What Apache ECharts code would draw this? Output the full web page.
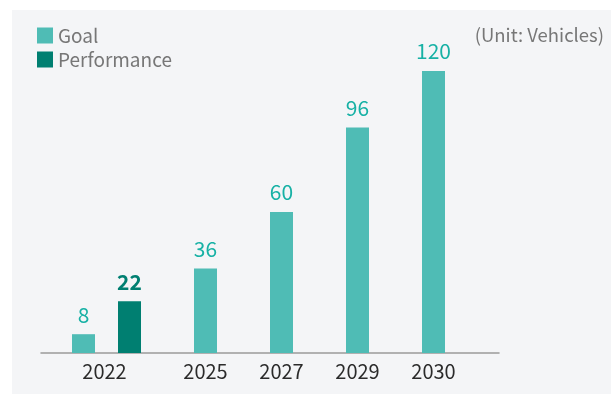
<!DOCTYPE html>
<html>
<head>
<meta charset="utf-8">
<script src="https://cdn.jsdelivr.net/npm/echarts@6/dist/echarts.min.js"></script>
<style>
  html, body { margin: 0; padding: 0; background: #ffffff; }
  #chart { width: 611px; height: 394px; }
</style>
</head>
<body>
<div id="chart"></div>
<script>
// Yearly targets and the 2022 result (unit: vehicles)
const years = ['2022', '2025', '2027', '2029', '2030'];
const goal = [8, 36, 60, 96, 120];
const performance = [22];
const unitNote = '(Unit: Vehicles)';

const FONT = '"Noto Sans CJK KR", "Noto Sans", sans-serif';
const GOAL_COLOR = '#4fbcb5';
const PERF_COLOR = '#007f71';
const VALUE_COLOR = '#17b1a5';

const chart = echarts.init(document.getElementById('chart'));

const gridTop = 71, gridBottom = 41;
const yMax = 120;

function yAxisFor(gridIndex) {
  return {
    type: 'value', gridIndex, min: 0, max: yMax, show: false
  };
}

const xLabel = {
  color: '#2b2b2b', fontSize: 20, fontFamily: FONT, margin: 8
};

function valueLabel(color, weight) {
  return {
    show: true, position: 'top', distance: 9,
    color, fontSize: 21, fontFamily: FONT, fontWeight: weight
  };
}

chart.setOption({
  animation: false,
  backgroundColor: '#ffffff',
  textStyle: { fontFamily: FONT },
  graphic: [
    {
      type: 'rect', z: -10, silent: true,
      shape: { x: 12, y: 10, width: 599, height: 384 },
      style: { fill: '#f4f5f7' }
    },
    {
      type: 'text', right: 7, top: 26,
      style: { text: unitNote, fill: '#777777', fontSize: 18.5, fontFamily: FONT }
    }
  ],
  legend: {
    orient: 'vertical', left: 37, top: 26, padding: 0,
    itemWidth: 16, itemHeight: 16, itemGap: 5,
    icon: 'rect',
    data: ['Goal', 'Performance'],
    textStyle: { color: '#777777', fontSize: 19, fontFamily: FONT }
  },
  grid: [
    // full-width baseline
    { left: 41, width: 458, top: gridTop, bottom: gridBottom },
    // 2022: goal and performance side by side
    { left: 41, width: 131, top: gridTop, bottom: gridBottom },
    // later target years
    { left: 167.5, width: 304, top: gridTop, bottom: gridBottom }
  ],
  xAxis: [
    {
      type: 'value', gridIndex: 0, min: 0, max: 1,
      axisLine: { show: true, onZero: false, lineStyle: { color: '#9a9a9a', width: 1.5 } },
      axisTick: { show: false }, axisLabel: { show: false }, splitLine: { show: false }
    },
    {
      type: 'category', gridIndex: 1, data: years.slice(0, 1),
      axisLine: { show: false }, axisTick: { show: false },
      axisLabel: Object.assign({}, xLabel, { padding: [0, 4, 0, 0] })
    },
    {
      type: 'category', gridIndex: 2, data: years.slice(1),
      axisLine: { show: false }, axisTick: { show: false },
      axisLabel: xLabel
    }
  ],
  yAxis: [yAxisFor(0), yAxisFor(1), yAxisFor(2)],
  series: [
    {
      name: 'Goal', type: 'bar', xAxisIndex: 1, yAxisIndex: 1,
      barWidth: 23, barGap: '100%',
      itemStyle: { color: GOAL_COLOR },
      label: valueLabel(VALUE_COLOR, 'normal'),
      data: goal.slice(0, 1)
    },
    {
      name: 'Performance', type: 'bar', xAxisIndex: 1, yAxisIndex: 1,
      barWidth: 23, barGap: '100%',
      itemStyle: { color: PERF_COLOR },
      label: valueLabel(PERF_COLOR, 'bold'),
      data: performance
    },
    {
      name: 'Goal', type: 'bar', xAxisIndex: 2, yAxisIndex: 2,
      barWidth: 23,
      itemStyle: { color: GOAL_COLOR },
      label: valueLabel(VALUE_COLOR, 'normal'),
      data: goal.slice(1)
    }
  ]
});
</script>
</body>
</html>
